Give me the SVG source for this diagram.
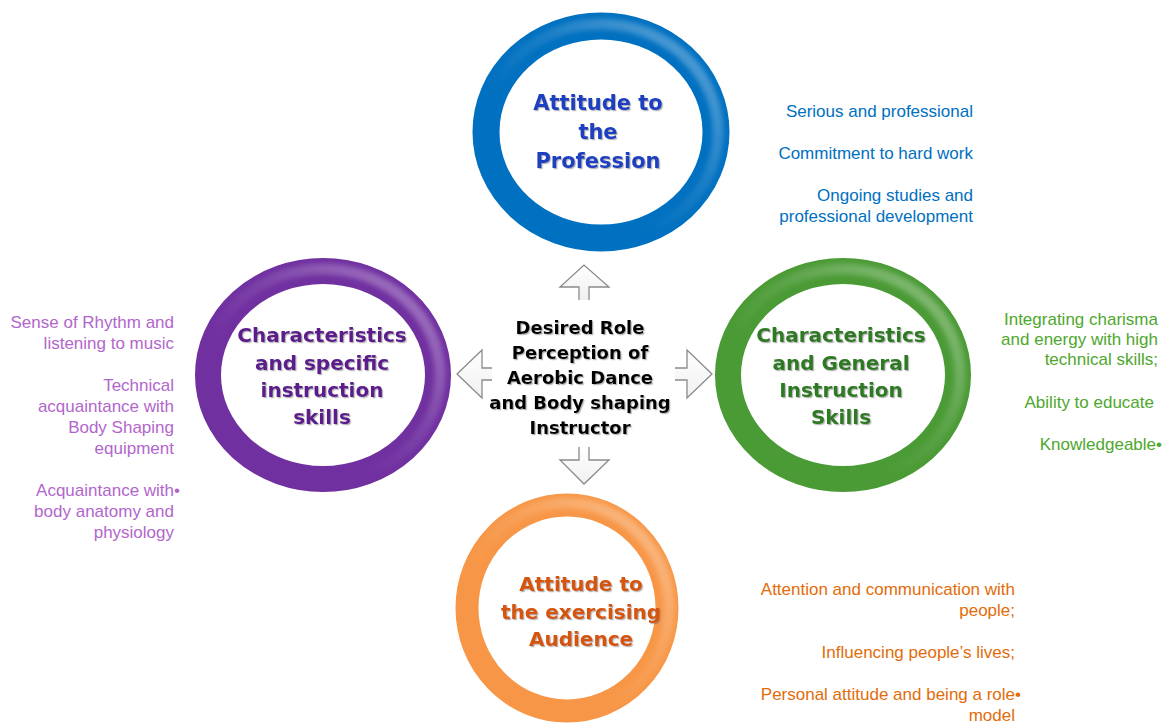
<svg xmlns="http://www.w3.org/2000/svg" width="1165" height="723" viewBox="0 0 1165 723">
  <defs>
    <style>
      .title { font-family: "DejaVu Sans", Verdana, sans-serif; font-weight: bold; text-anchor: middle; filter: url(#shadow); }
      .body { font-family: "Liberation Sans", Arial, sans-serif; font-size: 17px; text-anchor: end; }
      .ring { fill: none; }
      .shine { fill: none; stroke-width: 11; filter: url(#soft); }
      .arrow { fill: url(#arrowFill); stroke: #8a8a8a; stroke-width: 1.3; stroke-linejoin: miter; }
    </style>
    <filter id="shadow" x="-10%" y="-20%" width="120%" height="140%">
      <feDropShadow dx="1.2" dy="1.2" stdDeviation="0.6" flood-color="#7a7a7a" flood-opacity="0.55"/>
    </filter>
    <filter id="soft" x="-10%" y="-10%" width="120%" height="120%">
      <feGaussianBlur stdDeviation="2.5"/>
    </filter>
    <linearGradient id="arrowFill" x1="0" y1="0" x2="0" y2="1">
      <stop offset="0" stop-color="#ffffff"/>
      <stop offset="1" stop-color="#f0f0f0"/>
    </linearGradient>
    <!-- soft highlight running along the upper right of each tube -->
    <linearGradient id="shineGrad" x1="1" y1="0" x2="0" y2="1">
      <stop offset="0" stop-color="#ffffff" stop-opacity="0.38"/>
      <stop offset="0.4" stop-color="#ffffff" stop-opacity="0.1"/>
      <stop offset="0.65" stop-color="#ffffff" stop-opacity="0"/>
    </linearGradient>
    <linearGradient id="lineBlue" x1="0" y1="0" x2="1" y2="0">
      <stop offset="0" stop-color="#4f7fc4"/>
      <stop offset="0.5" stop-color="#b5c8e8"/>
      <stop offset="1" stop-color="#ffffff" stop-opacity="0"/>
    </linearGradient>
    <linearGradient id="linePurple" x1="1" y1="0" x2="0" y2="0">
      <stop offset="0" stop-color="#7030a0"/>
      <stop offset="0.5" stop-color="#b48fd0"/>
      <stop offset="1" stop-color="#ffffff" stop-opacity="0"/>
    </linearGradient>
    <linearGradient id="lineGreen" x1="0" y1="0" x2="1" y2="0">
      <stop offset="0" stop-color="#4a9a35"/>
      <stop offset="0.5" stop-color="#b3d6a8"/>
      <stop offset="1" stop-color="#ffffff" stop-opacity="0"/>
    </linearGradient>
    <linearGradient id="lineOrange" x1="0" y1="0" x2="1" y2="0">
      <stop offset="0" stop-color="#f79646"/>
      <stop offset="0.5" stop-color="#fbd1b0"/>
      <stop offset="1" stop-color="#ffffff" stop-opacity="0"/>
    </linearGradient>
  </defs>

  <rect width="1165" height="723" fill="#ffffff"/>

  <!-- callout rules and the four block arrows from the centre -->
  <g id="connectors">
    <line x1="700" y1="68" x2="990" y2="68" stroke="url(#lineBlue)" stroke-width="2.5"/>
    <line x1="20" y1="277" x2="270" y2="277" stroke="url(#linePurple)" stroke-width="2.5"/>
    <line x1="900" y1="277" x2="1110" y2="277" stroke="url(#lineGreen)" stroke-width="2.5"/>
    <line x1="650" y1="545" x2="900" y2="545" stroke="url(#lineOrange)" stroke-width="2.5"/>

    <!-- up -->
    <path class="arrow" d="M579,300 L579,287 L560,287 L584,265 L609,287 L589,287 L589,300"/>
    <!-- down -->
    <path class="arrow" d="M579,447 L579,460 L560,460 L584,484 L609,460 L589,460 L589,447"/>
    <!-- left -->
    <path class="arrow" d="M492,368 L482,368 L482,350 L457,374 L482,398 L482,380 L492,380"/>
    <!-- right -->
    <path class="arrow" d="M675,368 L687,368 L687,350 L712,374 L687,398 L687,380 L675,380"/>
  </g>

  <g id="node-profession">
    <ellipse class="ring" cx="601" cy="132" rx="115" ry="106" stroke="#0070c0" stroke-width="27"/>
    <ellipse class="shine" cx="601" cy="132" rx="117" ry="108" stroke="url(#shineGrad)"/>
    <text class="title" font-size="21" fill="#1c3fbf"><tspan x="598" y="110">Attitude to</tspan><tspan x="598" y="139">the</tspan><tspan x="598" y="168">Profession</tspan></text>
    <text class="body" fill="#0070c0"><tspan x="973" y="117">Serious and professional</tspan><tspan x="973" y="159">Commitment to hard work</tspan><tspan x="973" y="201">Ongoing studies and</tspan><tspan x="973" y="222">professional development</tspan></text>
  </g>

  <g id="node-specific">
    <ellipse class="ring" cx="323" cy="375" rx="115" ry="104" stroke="#7030a0" stroke-width="26"/>
    <ellipse class="shine" cx="323" cy="375" rx="117" ry="106" stroke="url(#shineGrad)"/>
    <text class="title" font-size="20" fill="#5b1b8c"><tspan x="322" y="342">Characteristics</tspan><tspan x="322" y="370">and specific</tspan><tspan x="322" y="397">instruction</tspan><tspan x="322" y="424">skills</tspan></text>
    <text class="body" fill="#b266cc"><tspan x="174" y="328">Sense of Rhythm and</tspan><tspan x="174" y="349">listening to music</tspan><tspan x="174" y="391">Technical</tspan><tspan x="174" y="412">acquaintance with</tspan><tspan x="174" y="433">Body Shaping</tspan><tspan x="174" y="454">equipment</tspan><tspan x="180" y="496">Acquaintance with•</tspan><tspan x="174" y="517">body anatomy and</tspan><tspan x="174" y="538">physiology</tspan></text>
  </g>

  <g id="node-general">
    <ellipse class="ring" cx="843" cy="375" rx="115" ry="104" stroke="#4a9a35" stroke-width="26"/>
    <ellipse class="shine" cx="843" cy="375" rx="117" ry="106" stroke="url(#shineGrad)"/>
    <text class="title" font-size="20" fill="#2e7a22"><tspan x="841" y="342">Characteristics</tspan><tspan x="841" y="370">and General</tspan><tspan x="841" y="397">Instruction</tspan><tspan x="841" y="424">Skills</tspan></text>
    <text class="body" fill="#4ea72e"><tspan x="1158" y="325">Integrating charisma</tspan><tspan x="1158" y="345">and energy with high</tspan><tspan x="1158" y="365">technical skills;</tspan><tspan x="1154" y="408">Ability to educate</tspan><tspan x="1162" y="450">Knowledgeable•</tspan></text>
  </g>

  <g id="node-audience">
    <ellipse class="ring" cx="567" cy="608" rx="100" ry="103" stroke="#f79646" stroke-width="23"/>
    <ellipse class="shine" cx="567" cy="608" rx="102" ry="105" stroke="url(#shineGrad)"/>
    <text class="title" font-size="20" fill="#d6550c"><tspan x="581" y="591">Attitude to</tspan><tspan x="581" y="619">the exercising</tspan><tspan x="581" y="646">Audience</tspan></text>
    <text class="body" fill="#e36c0a"><tspan x="1015" y="595">Attention and communication with</tspan><tspan x="1015" y="616">people;</tspan><tspan x="1015" y="658">Influencing people’s lives;</tspan><tspan x="1021" y="700">Personal attitude and being a role•</tspan><tspan x="1015" y="721">model</tspan></text>
  </g>

  <g id="node-centre">
    <text class="title" font-size="18" fill="#000000"><tspan x="580" y="334">Desired Role</tspan><tspan x="580" y="359">Perception of</tspan><tspan x="580" y="384">Aerobic Dance</tspan><tspan x="580" y="409">and Body shaping</tspan><tspan x="580" y="434">Instructor</tspan></text>
  </g>
</svg>
